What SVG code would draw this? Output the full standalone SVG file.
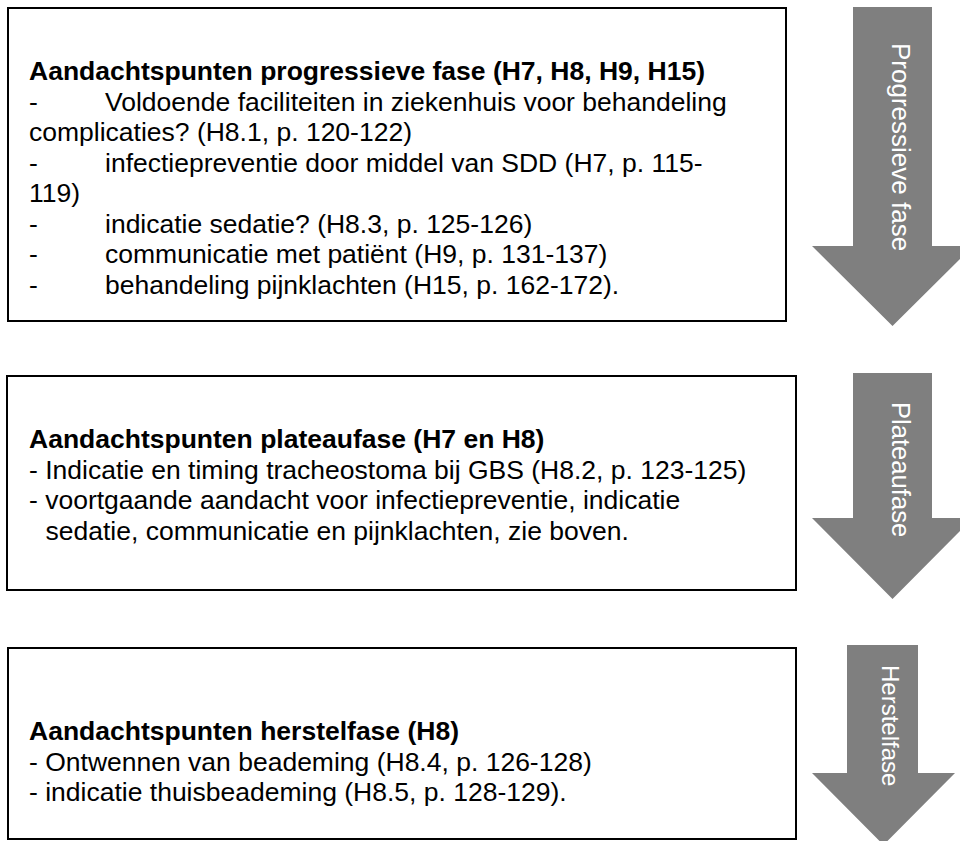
<svg xmlns="http://www.w3.org/2000/svg" width="960" height="841" viewBox="0 0 960 841">
<style>
.box{fill:#ffffff;stroke:#000000;stroke-width:2}
.t{font-family:"Liberation Sans",Arial,sans-serif;font-size:26.5px;fill:#000000}
.b{font-weight:bold}
.arrow{fill:#7f7f7f;stroke:none}
.al{font-family:"Liberation Sans",Arial,sans-serif;fill:#ffffff}
</style>
<rect width="960" height="841" fill="#ffffff"/>
<g id="box-progressief">
<rect class="box" x="8" y="8" width="778" height="313"/>
<text class="t b" x="29" y="80">Aandachtspunten progressieve fase (H7, H8, H9, H15)</text>
<text class="t" x="29" y="110.5">-</text>
<text class="t" x="105" y="110.5">Voldoende faciliteiten in ziekenhuis voor behandeling</text>
<text class="t" x="29" y="141">complicaties? (H8.1, p. 120-122)</text>
<text class="t" x="29" y="171.5">-</text>
<text class="t" x="105" y="171.5">infectiepreventie door middel van SDD (H7, p. 115-</text>
<text class="t" x="29" y="202">119)</text>
<text class="t" x="29" y="232.5">-</text>
<text class="t" x="105" y="232.5">indicatie sedatie? (H8.3, p. 125-126)</text>
<text class="t" x="29" y="263">-</text>
<text class="t" x="105" y="263">communicatie met patiënt (H9, p. 131-137)</text>
<text class="t" x="29" y="293.5">-</text>
<text class="t" x="105" y="293.5">behandeling pijnklachten (H15, p. 162-172).</text>
</g>
<g id="box-plateau">
<rect class="box" x="7" y="376" width="789" height="214"/>
<text class="t b" x="29" y="448">Aandachtspunten plateaufase (H7 en H8)</text>
<text class="t" x="29" y="478.5">- Indicatie en timing tracheostoma bij GBS (H8.2, p. 123-125)</text>
<text class="t" x="29" y="509">- voortgaande aandacht voor infectiepreventie, indicatie</text>
<text class="t" x="45.5" y="539.5">sedatie, communicatie en pijnklachten, zie boven.</text>
</g>
<g id="box-herstel">
<rect class="box" x="8" y="648" width="788" height="191"/>
<text class="t b" x="29" y="740">Aandachtspunten herstelfase (H8)</text>
<text class="t" x="29" y="770.5">- Ontwennen van beademing (H8.4, p. 126-128)</text>
<text class="t" x="29" y="801">- indicatie thuisbeademing (H8.5, p. 128-129).</text>
</g>
<g id="arrow-progressief">
<polygon class="arrow" points="853,7 932,7 932,246 973,246 892.5,326 812,246 853,246"/>
<text class="al" font-size="26" transform="translate(892,43) rotate(90)">Progressieve fase</text>
</g>
<g id="arrow-plateau">
<polygon class="arrow" points="853,373 932,373 932,518 973,518 892.5,599 812,518 853,518"/>
<text class="al" font-size="25.6" transform="translate(892,402) rotate(90)">Plateaufase</text>
</g>
<g id="arrow-herstel">
<polygon class="arrow" points="847,645 918,645 918,773 955,773 883.5,845 812,773 847,773"/>
<text class="al" font-size="24" transform="translate(882,665) rotate(90)">Herstelfase</text>
</g>
<g id="connectors"/>
</svg>
